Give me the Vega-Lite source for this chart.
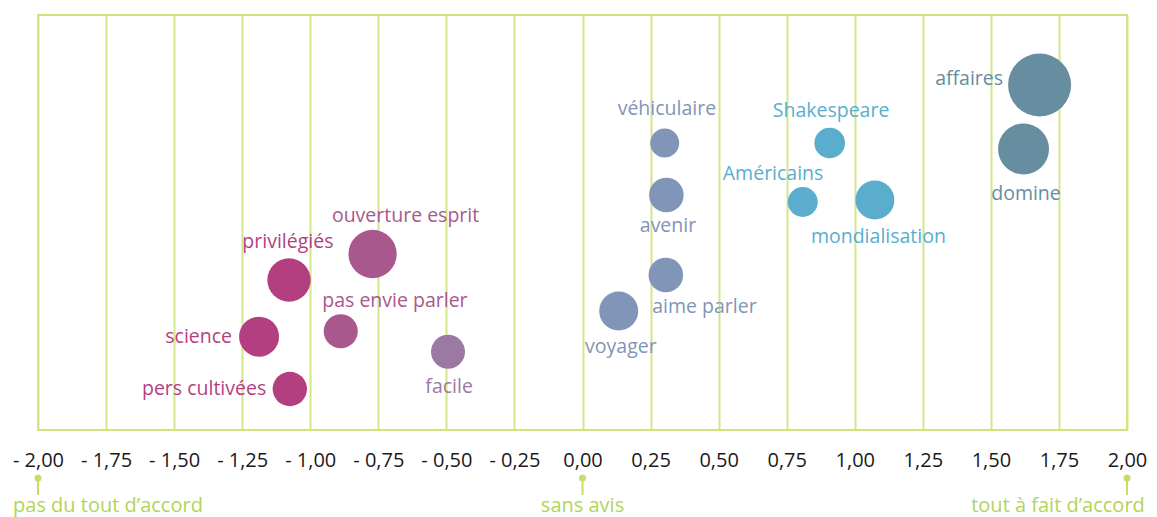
{
  "$schema": "https://vega.github.io/schema/vega-lite/v6.json",
  "width": 1089,
  "height": 415,
  "autosize": {"type": "none"},
  "padding": {"left": 38, "top": 15, "right": 30, "bottom": 87},
  "background": "white",
  "config": {
    "view": {"stroke": "#cfe27c", "strokeWidth": 2},
    "font": "Open Sans",
    "text": {"font": "Open Sans"}
  },
  "datasets": {
    "bubbles": [
      {"label": "affaires", "group": "A", "x": 1.679, "y": 345, "v": 39.7, "lx": 1.420, "ly": 351},
      {"label": "domine", "group": "A", "x": 1.620, "y": 281, "v": 26.0, "lx": 1.629, "ly": 236},
      {"label": "Shakespeare", "group": "B", "x": 0.908, "y": 287, "v": 9.4, "lx": 0.913, "ly": 319},
      {"label": "Américains", "group": "B", "x": 0.809, "y": 228, "v": 9.0, "lx": 0.700, "ly": 256},
      {"label": "mondialisation", "group": "B", "x": 1.074, "y": 230, "v": 15.2, "lx": 1.087, "ly": 193},
      {"label": "véhiculaire", "group": "C", "x": 0.302, "y": 287, "v": 8.4, "lx": 0.310, "ly": 321},
      {"label": "avenir", "group": "C", "x": 0.308, "y": 235, "v": 12.0, "lx": 0.314, "ly": 204},
      {"label": "aime parler", "group": "C", "x": 0.306, "y": 155, "v": 12.0, "lx": 0.448, "ly": 123},
      {"label": "voyager", "group": "C", "x": 0.133, "y": 119, "v": 15.2, "lx": 0.141, "ly": 83},
      {"label": "ouverture esprit", "group": "D", "x": -0.771, "y": 176, "v": 23.3, "lx": -0.650, "ly": 214},
      {"label": "pas envie parler", "group": "D", "x": -0.888, "y": 98.7, "v": 11.6, "lx": -0.689, "ly": 129},
      {"label": "privilégiés", "group": "E", "x": -1.078, "y": 150, "v": 18.8, "lx": -1.082, "ly": 188},
      {"label": "science", "group": "E", "x": -1.188, "y": 93.3, "v": 16.0, "lx": -1.410, "ly": 93},
      {"label": "pers cultivées", "group": "E", "x": -1.075, "y": 41, "v": 11.8, "lx": -1.390, "ly": 41},
      {"label": "facile", "group": "F", "x": -0.494, "y": 78.3, "v": 11.6, "lx": -0.490, "ly": 43}
    ],
    "notes": [
      {"x": -2, "text": "pas du tout d’accord", "tx": -1.743},
      {"x": 0, "text": "sans avis", "tx": 0},
      {"x": 2, "text": "tout à fait d’accord", "tx": 1.7466}
    ]
  },
  "layer": [
    {
      "data": {"name": "bubbles"},
      "mark": {"type": "circle", "opacity": 1},
      "encoding": {
        "x": {
          "field": "x", "type": "quantitative",
          "scale": {"domain": [-2, 2], "nice": false, "zero": false},
          "axis": {
            "title": null,
            "values": [-2, -1.75, -1.5, -1.25, -1, -0.75, -0.5, -0.25, 0, 0.25, 0.5, 0.75, 1, 1.25, 1.5, 1.75, 2],
            "grid": true, "gridColor": "#d4e68a", "gridWidth": 2, "gridOpacity": 1,
            "domain": false, "ticks": false,
            "labelExpr": "(datum.value < 0 ? '- ' : '') + replace(format(abs(datum.value), '.2f'), '.', ',')",
            "labelFont": "Open Sans", "labelFontSize": 20, "labelColor": "#1a1a1a",
            "labelPadding": 20, "labelFlush": false, "labelOverlap": false
          }
        },
        "y": {
          "field": "y", "type": "quantitative",
          "scale": {"domain": [0, 415], "nice": false, "zero": false},
          "axis": null
        },
        "size": {
          "field": "v", "type": "quantitative",
          "scale": {"type": "linear", "domain": [0, 40], "range": [0, 4000], "zero": true},
          "legend": null
        },
        "color": {
          "field": "group", "type": "nominal",
          "scale": {"domain": ["A", "B", "C", "D", "E", "F"], "range": ["#668da0", "#5aadcd", "#8195b8", "#a9588d", "#b43f80", "#9b79a3"]},
          "legend": null
        }
      }
    },
    {
      "data": {"name": "bubbles"},
      "mark": {"type": "text", "font": "Open Sans", "fontSize": 19.5, "align": "center", "baseline": "middle"},
      "encoding": {
        "x": {"field": "lx", "type": "quantitative"},
        "y": {"field": "ly", "type": "quantitative"},
        "text": {"field": "label"},
        "color": {"field": "group", "type": "nominal", "legend": null}
      }
    },
    {
      "data": {"name": "notes"},
      "mark": {"type": "rule", "color": "#c5dd6a", "strokeWidth": 2, "clip": false},
      "encoding": {
        "x": {"field": "x", "type": "quantitative"},
        "y": {"datum": -48},
        "y2": {"datum": -65}
      }
    },
    {
      "data": {"name": "notes"},
      "mark": {"type": "circle", "color": "#c5dd6a", "opacity": 1, "size": 50, "clip": false},
      "encoding": {
        "x": {"field": "x", "type": "quantitative"},
        "y": {"datum": -48}
      }
    },
    {
      "data": {"name": "notes"},
      "mark": {"type": "text", "font": "Open Sans", "fontSize": 20, "color": "#b3d35a", "align": "center", "baseline": "alphabetic", "clip": false},
      "encoding": {
        "x": {"field": "tx", "type": "quantitative"},
        "y": {"datum": -82},
        "text": {"field": "text"}
      }
    }
  ]
}
